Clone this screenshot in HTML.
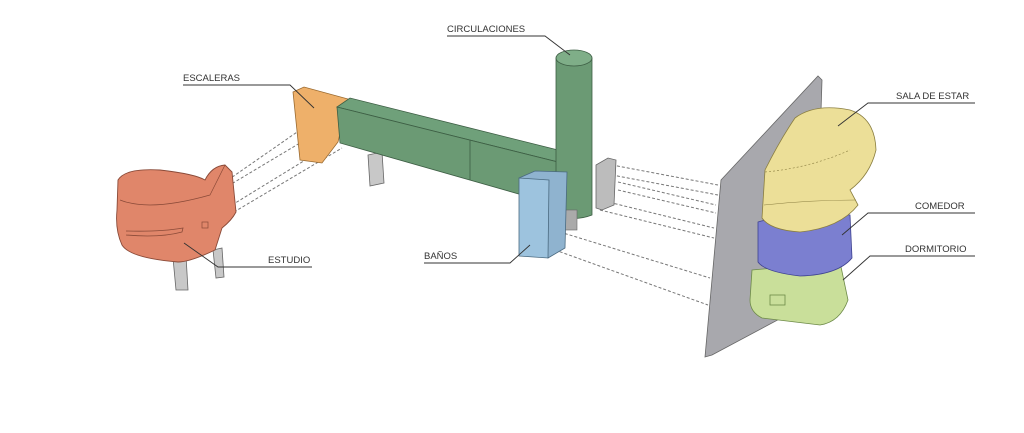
<!DOCTYPE html>
<html><head><meta charset="utf-8"><style>
html,body{margin:0;padding:0;background:#fff;width:1024px;height:433px;overflow:hidden}
svg{display:block}
text{font-family:"Liberation Sans",sans-serif;font-size:9.5px;fill:#333}
</style></head><body>
<svg width="1024" height="433" viewBox="0 0 1024 433">
<g stroke="#777" stroke-width="1" stroke-dasharray="3,2" fill="none">
<line x1="228" y1="180" x2="300" y2="130"/><line x1="228" y1="186" x2="305" y2="140"/>
<line x1="232" y1="205" x2="338" y2="140"/><line x1="234" y1="212" x2="342" y2="148"/>
<line x1="612" y1="165" x2="718" y2="185"/><line x1="612" y1="175" x2="718" y2="195"/>
<line x1="618" y1="182" x2="716" y2="205"/><line x1="618" y1="190" x2="716" y2="213"/>
<line x1="600" y1="200" x2="714" y2="228"/><line x1="600" y1="210" x2="714" y2="238"/>
<line x1="560" y1="232" x2="710" y2="278"/><line x1="555" y1="250" x2="708" y2="305"/>
</g>
<polygon points="368,155 382,152 384,183 370,186" fill="#c8c8c8" stroke="#666" stroke-width="0.8"/>
<polygon points="173,258 186,256 188,290 176,290" fill="#c8c8c8" stroke="#666" stroke-width="0.8"/>
<polygon points="213,250 222,248 224,277 216,278" fill="#c8c8c8" stroke="#666" stroke-width="0.8"/>
<path d="M118,180 Q125,168 160,170 Q195,174 205,180 Q212,166 225,165 L232,172 L236,212 Q232,220 222,228 L215,250 Q190,262 178,262 Q130,258 122,245 Q115,230 117,210 Z" fill="#e0866a" stroke="#8a4a38" stroke-width="0.9"/>
<path d="M120,200 Q150,212 210,195 L225,165" fill="none" stroke="#8a4a38" stroke-width="0.7"/>
<path d="M126,235 Q160,238 182,232 L183,228 Q160,232 126,231" fill="none" stroke="#8a4a38" stroke-width="0.8"/>
<rect x="202" y="222" width="6" height="6" fill="none" stroke="#8a4a38" stroke-width="0.7"/>
<polygon points="293,92 304,87 348,99 338,142 322,163 300,160" fill="#eeb06a" stroke="#9a6a30" stroke-width="0.8"/>
<polygon points="337,107 350,98 590,158 582,168" fill="#6fa07a" stroke="#3d5e44" stroke-width="0.8"/>
<polygon points="337,107 582,168 582,212 340,143" fill="#6b9a74" stroke="#3d5e44" stroke-width="0.8"/>
<line x1="470" y1="140" x2="470" y2="180" stroke="#3d5e44" stroke-width="0.8"/>
<path d="M556,58 L556,215 Q574,222 592,215 L592,58 Z" fill="#6b9a74" stroke="#3d5e44" stroke-width="0.8"/>
<ellipse cx="574" cy="58" rx="18" ry="8" fill="#7fae88" stroke="#3d5e44" stroke-width="0.8"/>
<rect x="565" y="210" width="12" height="20" fill="#aaa" stroke="#666" stroke-width="0.6"/>
<polygon points="596,165 608,158 616,160 614,205 602,210 596,208" fill="#bcbcbc" stroke="#666" stroke-width="0.8"/>
<polygon points="519,178 535,171 567,172 565,248 548,258" fill="#8fb3cf" stroke="#4a6a80" stroke-width="0.8"/>
<polygon points="519,178 549,180 548,258 519,256" fill="#9dc3de" stroke="#4a6a80" stroke-width="0.8"/>
<polygon points="721,180 818,76 822,80 815,300 712,355 705,357" fill="#a8a8ad" stroke="#666" stroke-width="0.8"/>
<path d="M752,270 L840,262 L848,300 Q840,322 820,325 L762,318 Q750,312 750,300 Z" fill="#c9df9a" stroke="#6d8a48" stroke-width="0.8"/>
<rect x="770" y="295" width="15" height="10" fill="none" stroke="#6d8a48" stroke-width="0.8"/>
<path d="M758,222 Q800,210 850,215 L852,258 Q838,275 800,276 Q765,272 758,262 Z" fill="#7b7fd0" stroke="#3e4290" stroke-width="0.8"/>
<path d="M765,170 Q780,140 795,118 Q815,103 850,110 Q875,118 876,150 Q870,175 850,190 L858,205 Q840,228 800,232 Q770,230 762,218 Z" fill="#ecdf98" stroke="#8a7e40" stroke-width="0.8"/>
<path d="M765,172 Q810,168 850,150" fill="none" stroke="#8a7e40" stroke-width="0.6" stroke-dasharray="2,2"/>
<path d="M764,205 Q810,200 856,200" fill="none" stroke="#8a7e40" stroke-width="0.6"/>
<g stroke="#333" stroke-width="0.9" fill="none">
<polyline points="183,85 290,85 314,108"/>
<polyline points="447,36 545,36 570,55"/>
<polyline points="312,267 218,267 184,243"/>
<polyline points="424,263 510,263 530,245"/>
<polyline points="975,103 868,103 838,126"/>
<polyline points="975,213 868,213 842,235"/>
<polyline points="975,256 870,256 843,280"/>
</g>
<text x="183" y="81">ESCALERAS</text>
<text x="447" y="32">CIRCULACIONES</text>
<text x="268" y="263">ESTUDIO</text>
<text x="424" y="259">BAÑOS</text>
<text x="896" y="99">SALA DE ESTAR</text>
<text x="915" y="209">COMEDOR</text>
<text x="905" y="252">DORMITORIO</text>
</svg>
</body></html>
